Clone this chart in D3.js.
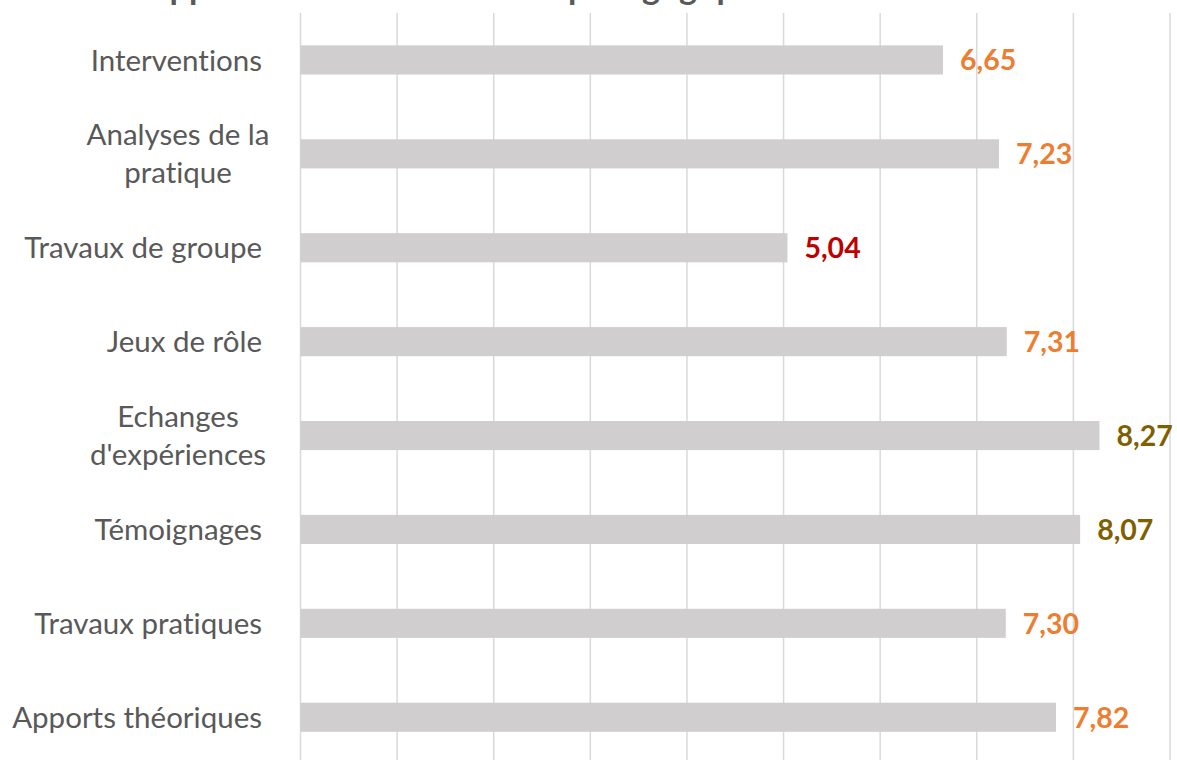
<!DOCTYPE html>
<html>
<head>
<meta charset="utf-8">
<script src="https://cdn.jsdelivr.net/npm/d3@7"></script>
<style>
  html, body { margin: 0; padding: 0; background: #fff; }
  svg { display: block; font-family: Lato, "Open Sans", sans-serif; font-variant-ligatures: none; }
</style>
</head>
<body>
<div id="chart"></div>
<script>
const titleText = 'Appréciation des méthodes pédagogiques';
const categories = [
  ['Interventions'],
  ['Analyses de la', 'pratique'],
  ['Travaux de groupe'],
  ['Jeux de rôle'],
  ['Echanges', "d'expériences"],
  ['Témoignages'],
  ['Travaux pratiques'],
  ['Apports théoriques']
];
const scores = [6.65, 7.23, 5.04, 7.31, 8.27, 8.07, 7.30, 7.82];
const xTicks = [0, 1, 2, 3, 4, 5, 6, 7, 8, 9];

const W = 1177, H = 760;
const Margin = { Top: 13, Left: 300.5, Right: 7 };
const plotBottom = Margin.Top + 8 * 93.9;
const labelSize = 29.5;
const lineGap = 38;

const svg = d3.select('#chart')
  .append('svg')
  .attr('width', W)
  .attr('height', H);

const x = d3.scaleLinear()
  .domain([0, 9])
  .range([Margin.Left, W - Margin.Right]);

const y = d3.scaleBand()
  .domain(d3.range(categories.length))
  .range([Margin.Top, plotBottom])
  .paddingInner(0.69)
  .paddingOuter(0.345);

// title, mostly cut off at the top of the frame
svg.append('text')
  .attr('x', 146)
  .attr('y', -1)
  .attr('font-size', 34)
  .attr('font-weight', 700)
  .attr('fill', '#595959')
  .text(titleText);

// vertical gridlines
svg.append('g')
  .selectAll('line')
  .data(xTicks)
  .join('line')
  .attr('x1', d => x(d))
  .attr('x2', d => x(d))
  .attr('y1', Margin.Top)
  .attr('y2', plotBottom)
  .attr('stroke', '#d9d9d9')
  .attr('stroke-width', 1.5);

svg.append('g')
  .selectAll('rect')
  .data(scores)
  .join('rect')
  .attr('x', x(0))
  .attr('y', (d, i) => y(i))
  .attr('width', d => x(d) - x(0))
  .attr('height', y.bandwidth())
  .attr('fill', '#d0cece');

const valueColor = v => (v < 6 ? '#c00000' : v >= 8 ? '#7f6000' : '#ed7d31');

svg.append('g')
  .selectAll('text')
  .data(scores)
  .join('text')
  .attr('x', d => x(d) + 17)
  .attr('y', (d, i) => y(i) + y.bandwidth() / 2)
  .attr('dy', '0.36em')
  .attr('font-size', 28.5)
  .attr('font-weight', 700)
  .attr('fill', valueColor)
  .text(d => d.toFixed(2).replace('.', ','));

// category labels: single lines right-aligned, wrapped ones centred
const labels = svg.append('g')
  .selectAll('text')
  .data(categories)
  .join('text')
  .attr('font-size', labelSize)
  .attr('fill', '#595959')
  .attr('text-anchor', d => (d.length > 1 ? 'middle' : 'end'))
  .attr('x', d => (d.length > 1 ? 178 : 262))
  .attr('y', (d, i) => y(i) + y.bandwidth() / 2 + labelSize * 0.36);

labels.selectAll('tspan')
  .data(d => d.map((t, j) => ({ t, j, n: d.length })))
  .join('tspan')
  .attr('x', function () { return d3.select(this.parentNode).attr('x'); })
  .attr('dy', d => (d.j === 0 ? -(d.n - 1) * lineGap / 2 : lineGap))
  .text(d => d.t);
</script>
</body>
</html>
